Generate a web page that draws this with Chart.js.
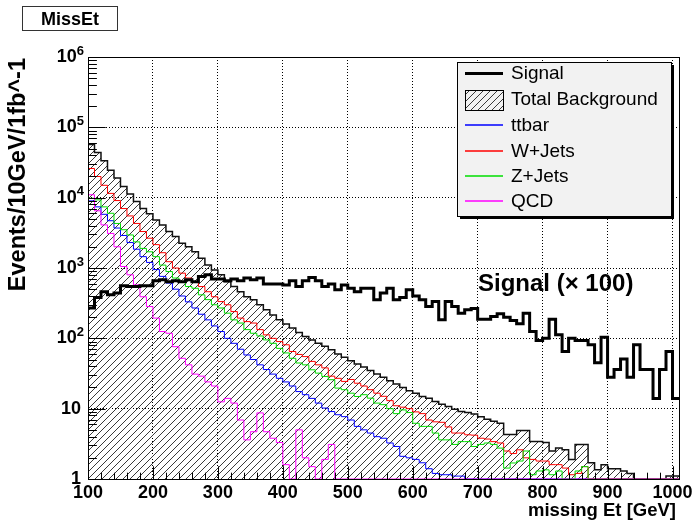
<!DOCTYPE html>
<html>
<head>
<meta charset="utf-8">
<title>MissEt</title>
<script src="https://cdn.jsdelivr.net/npm/chart.js@4/dist/chart.umd.min.js"></script>
<style>
  html, body { margin: 0; padding: 0; background: #fff; }
  canvas { display: block; }
</style>
</head>
<body>
<canvas id="missEt" width="700" height="523"></canvas>
<script>
// ─── Data (10 GeV bins, lower edges 100 … 1000) ─────────────
const binLow = 100, binWidth = 10, xMax = 1010;
const binEdges = Array.from({ length: 91 }, (_, i) => binLow + i * binWidth);

const xTicks = [100, 200, 300, 400, 500, 600, 700, 800, 900, 1000];
const yTicks = [1, 10, 100, 1000, 10000, 100000, 1000000];

const signal = [
  270, 380, 460, 415, 440, 560, 545, 545, 560, 560,
  660, 680, 640, 660, 640, 680, 640, 755, 800, 700,
  700, 660, 700, 660, 720, 680, 720, 590, 590, 590,
  575, 660, 545, 660, 730, 660, 545, 590, 490, 575,
  515, 460, 515, 515, 355, 440, 515, 355, 380, 490,
  400, 355, 283, 333, 183, 333, 283, 228, 254, 265,
  187, 187, 204, 223, 200, 179, 161, 228, 125, 93,
  100, 187, 112, 65, 100, 93, 93, 81, 45, 104,
  28, 36, 51, 28, 81, 36, 36, 14, 36, 65,
  14
];

const totalBkg = [
  57000, 44000, 33500, 24500, 19000, 14400, 11300, 8800, 7000, 5900,
  4800, 4100, 3300, 2800, 2250, 2000, 1700, 1380, 1100, 940,
  800, 640, 545, 460, 390, 355, 300, 255, 215, 183,
  160, 140, 121, 106, 95, 85, 77, 69, 60, 54,
  48, 43, 39, 35, 31, 28, 25, 22.5, 20, 18,
  16.6, 14.9, 14.1, 12.6, 11.6, 10.7, 9.8, 9.1, 8.8, 8.4,
  7.7, 7.1, 6.6, 6.2, 4.3, 4.3, 4.9, 4.9, 3.4, 3.4,
  3.3, 2.5, 2.75, 2.6, 1.9, 3.1, 3.1, 1.7, 1.35, 1.6,
  1.4, 1.4, 1.3, 1.2, 0, 0, 0, 0, 0, 1.1,
  1.1
];

const ttbar = [
  9000, 7400, 5800, 4700, 3700, 2900, 2300, 1850, 1450, 1200,
  950, 760, 610, 500, 400, 330, 270, 220, 183, 150,
  125, 100, 85, 70, 58, 50, 42, 36, 31, 27,
  24, 21, 17.5, 15.8, 14, 12, 10.2, 9.1, 8.2, 7.7,
  6.9, 5.6, 5, 4.5, 4, 3.8, 3.25, 2.9, 2.1, 2,
  1.9, 1.7, 1.4, 1.2, 1.15, 1.15, 1.1, 1.1, 0, 0,
  0, 0, 0, 0, 0, 0, 0, 0, 0, 0,
  0, 0, 0, 0, 0, 0, 0, 0, 0, 0,
  0, 0, 0, 0, 0, 0, 0, 0, 0, 0,
  0
];

const wJets = [
  26000, 20000, 15000, 11500, 9100, 7000, 5500, 4300, 3300, 2650,
  2150, 1650, 1230, 1000, 845, 720, 640, 545, 460, 390,
  333, 300, 240, 194, 173, 165, 133, 112, 100, 90,
  81, 65, 59, 55, 47, 42, 38, 29, 27, 24.4,
  26, 23, 21, 18.6, 16.6, 15, 13, 11, 10.5, 10,
  9, 8.5, 6.9, 6.5, 6.4, 5.5, 4.5, 4.5, 4.25, 4.2,
  3.8, 3.7, 3.4, 3.25, 2.5, 2.3, 2.6, 2, 1.9, 1.8,
  1.8, 1.6, 1.6, 1.43, 1.15, 1.2, 1.5, 0, 0, 0,
  0, 0, 0, 0, 0, 0, 0, 0, 0, 0,
  0
];

const zJets = [
  9800, 9300, 7400, 6000, 4300, 3500, 2950, 2350, 1900, 1700,
  1450, 1100, 890, 720, 640, 545, 515, 415, 355, 300,
  270, 228, 183, 165, 133, 118, 108, 95, 85, 72,
  62, 52, 44.6, 42, 35.7, 32, 28.7, 25.8, 19.6, 18.6,
  16.6, 14.9, 15.8, 14.1, 12, 11.4, 10, 8.5, 9.6, 8.8,
  6.2, 5.6, 5.6, 4.5, 3.6, 3.6, 3.1, 3.4, 3.4, 2.9,
  3.1, 3.25, 3.1, 2.75, 1.43, 1.69, 1.8, 2.5, 1.15, 1.3,
  1.35, 1.15, 1.3, 0, 0, 1.3, 1.5, 0, 0, 0,
  0, 0, 0, 0, 0, 0, 0, 0, 0, 0,
  0
];

const qcd = [
  11000, 6500, 4100, 3100, 2000, 1050, 800, 575, 390, 283,
  194, 125, 118, 76, 52, 42, 31, 29, 24, 21,
  12.5, 14, 12, 6.9, 3.6, 4.7, 8.7, 4.7, 3.8, 3.3,
  1.6, 0, 5, 2, 1.5, 0, 1.9, 3.1, 0, 0,
  0, 0, 0, 0, 0, 0, 0, 0, 0, 0,
  0, 0, 0, 0, 0, 0, 0, 0, 0, 0,
  0, 0, 0, 0, 0, 0, 0, 0, 0, 0,
  0, 0, 0, 0, 0, 0, 0, 0, 0, 0,
  0, 0, 0, 0, 0, 0, 0, 0, 0, 0,
  0
];

const yMin = 1, yMax = 1e6;
const FONT = '"Liberation Sans", Arial, Helvetica, sans-serif';
const colTtbar = '#0000ff', colW = '#ff0000', colZ = '#00dd00', colQcd = '#ff00ff';

// histogram -> step points; empty bins sit on the axis floor like in ROOT
function histPoints(vals) {
  const pts = vals.map((v, i) => ({ x: binEdges[i], y: Math.max(v, yMin) }));
  pts.push({ x: xMax, y: Math.max(vals[vals.length - 1], yMin) });
  return pts;
}

// ─── Hatch pattern (ROOT fill style 3004-ish) ──────────────
function makeHatch() {
  const s = 7;
  const pc = document.createElement('canvas');
  pc.width = s; pc.height = s;
  const g = pc.getContext('2d');
  g.strokeStyle = '#3a3a3a';
  g.lineWidth = 1;
  g.beginPath();
  g.moveTo(0, s); g.lineTo(s, 0);
  g.moveTo(-1, 1); g.lineTo(1, -1);
  g.moveTo(s - 1, s + 1); g.lineTo(s + 1, s - 1);
  g.stroke();
  return g.createPattern(pc, 'repeat');
}
const hatch = makeHatch();

function histLine(label, vals, color, width, order, extra) {
  return Object.assign({
    label, data: histPoints(vals), stepped: true,
    borderColor: color, borderWidth: width, pointRadius: 0,
    borderJoinStyle: 'miter', borderCapStyle: 'butt',
    fill: false, order
  }, extra || {});
}

// ─── Frame, ticks, labels, legend ──────────────────────────
const rootDecor = {
  id: 'rootDecor',
  afterDatasetsDraw(chart) {
    const { ctx, chartArea: a, scales: { x, y } } = chart;
    ctx.save();
    ctx.strokeStyle = '#000';
    ctx.lineWidth = 1;
    ctx.beginPath();
    for (let v = 100; v <= 1000; v += 20) {
      const px = Math.round(x.getPixelForValue(v)) + 0.5;
      const len = v % 100 === 0 ? 12.7 : 6.3;
      ctx.moveTo(px, a.bottom); ctx.lineTo(px, a.bottom - len);
    }
    for (let d = 1; d < yMax; d *= 10) {
      for (let m = 1; m <= 9; m++) {
        const py = Math.round(y.getPixelForValue(d * m)) + 0.5;
        const len = m === 1 ? 17.7 : 8.9;
        ctx.moveTo(a.left, py); ctx.lineTo(a.left + len, py);
      }
    }
    ctx.stroke();
    ctx.strokeRect(Math.round(a.left) + 0.5, Math.round(a.top) + 0.5,
      Math.round(a.right - a.left), Math.round(a.bottom - a.top));
    ctx.restore();
  },
  afterDraw(chart) {
    const { ctx, scales: { y } } = chart;
    ctx.save();
    ctx.fillStyle = '#000';

    // y tick labels with exponents
    ctx.textBaseline = 'middle';
    yTicks.forEach(v => {
      const py = y.getPixelForValue(v);
      const e = Math.round(Math.log10(v));
      if (e <= 1) {
        ctx.font = 'bold 18px ' + FONT;
        ctx.textAlign = 'right';
        ctx.fillText(String(v), 81, py);
      } else {
        ctx.font = 'bold 13px ' + FONT;
        const ew = ctx.measureText(String(e)).width;
        ctx.textAlign = 'left';
        ctx.fillText(String(e), 84 - ew, py - 6);
        ctx.font = 'bold 18px ' + FONT;
        ctx.textAlign = 'right';
        ctx.fillText('10', 84 - ew, py);
      }
    });

    // axis titles
    ctx.font = 'bold 18.5px ' + FONT;
    ctx.textAlign = 'right';
    ctx.textBaseline = 'alphabetic';
    ctx.fillText('missing Et [GeV]', 676, 516);
    ctx.save();
    ctx.translate(25, 58);
    ctx.rotate(-Math.PI / 2);
    ctx.font = 'bold 23.5px ' + FONT;
    ctx.fillText('Events/10GeV/1fb^-1', 0, 0);
    ctx.restore();

    // histogram title box
    ctx.fillStyle = '#fff';
    ctx.fillRect(22, 6, 95, 24);
    ctx.strokeStyle = '#333';
    ctx.lineWidth = 1;
    ctx.strokeRect(22.5, 6.5, 95, 24);
    ctx.fillStyle = '#000';
    ctx.font = 'bold 18px ' + FONT;
    ctx.textAlign = 'center';
    ctx.textBaseline = 'alphabetic';
    ctx.fillText('MissEt', 70, 25);

    // signal scale note
    ctx.font = 'bold 24px ' + FONT;
    ctx.textAlign = 'left';
    ctx.fillText('Signal (\u00d7 100)', 478, 291);

    // legend
    const L = 457, T = 62, R = 671, B = 216;
    ctx.fillStyle = '#000';
    ctx.fillRect(L + 3, T + 3, R - L, B - T);
    ctx.fillStyle = '#f2f2f2';
    ctx.fillRect(L, T, R - L, B - T);
    ctx.strokeStyle = '#000';
    ctx.lineWidth = 1;
    ctx.strokeRect(L + 0.5, T + 0.5, R - L, B - T);

    const entries = [
      { text: 'Signal', color: '#000000', w: 3, base: 79 },
      { text: 'Total Background', hatch: true, base: 105 },
      { text: 'ttbar', color: colTtbar, w: 2, base: 131 },
      { text: 'W+Jets', color: colW, w: 2, base: 157 },
      { text: 'Z+Jets', color: colZ, w: 2, base: 182 },
      { text: 'QCD', color: colQcd, w: 2, base: 207 }
    ];
    entries.forEach(en => {
      const mid = Math.round(en.base - 6);
      if (en.hatch) {
        ctx.fillStyle = hatch;
        ctx.fillRect(465, 90, 38, 20);
        ctx.strokeStyle = '#000';
        ctx.lineWidth = 1;
        ctx.strokeRect(465.5, 90.5, 38, 20);
      } else {
        ctx.globalAlpha = en.w === 2 ? 0.75 : 1;
        ctx.fillStyle = en.color;
        ctx.fillRect(465, mid - Math.floor(en.w / 2), 38, en.w);
        ctx.globalAlpha = 1;
      }
      ctx.fillStyle = '#000';
      ctx.font = '19px ' + FONT;
      ctx.textAlign = 'left';
      ctx.textBaseline = 'alphabetic';
      ctx.fillText(en.text, 511, en.base);
    });
    ctx.restore();
  }
};

// ─── Chart ─────────────────────────────────────────────────
new Chart(document.getElementById('missEt'), {
  type: 'line',
  data: {
    datasets: [
      histLine('Signal', signal, '#000', 3, 0),
      histLine('QCD', qcd, colQcd, 1, 1),
      histLine('Z+Jets', zJets, colZ, 1, 2),
      histLine('W+Jets', wJets, colW, 1, 3),
      histLine('ttbar', ttbar, colTtbar, 1, 4),
      histLine('Total Background', totalBkg, '#111', 1.5, 5, { fill: 'start', backgroundColor: hatch })
    ]
  },
  options: {
    responsive: false,
    animation: false,
    devicePixelRatio: 1,
    layout: { padding: { top: 57, right: 21, left: 0, bottom: 0 } },
    plugins: { legend: { display: false }, tooltip: { enabled: false } },
    scales: {
      x: {
        type: 'linear', min: binLow, max: xMax,
        afterBuildTicks: s => { s.ticks = xTicks.map(v => ({ value: v })); },
        afterFit: s => { s.height = 44; },
        ticks: {
          color: '#000', padding: 3, maxRotation: 0, autoSkip: false,
          font: { family: FONT, size: 18, weight: 'bold' },
          callback: v => String(v)
        },
        grid: { color: '#000', lineWidth: 1, drawTicks: false },
        border: { display: false, dash: [1, 2] }
      },
      y: {
        type: 'logarithmic', min: yMin, max: yMax,
        afterBuildTicks: s => { s.ticks = yTicks.map(v => ({ value: v })); },
        afterFit: s => { s.width = 88; },
        ticks: { display: false },
        grid: { color: '#000', lineWidth: 1, drawTicks: false },
        border: { display: false, dash: [1, 2] }
      }
    }
  },
  plugins: [rootDecor]
});
</script>
</body>
</html>
